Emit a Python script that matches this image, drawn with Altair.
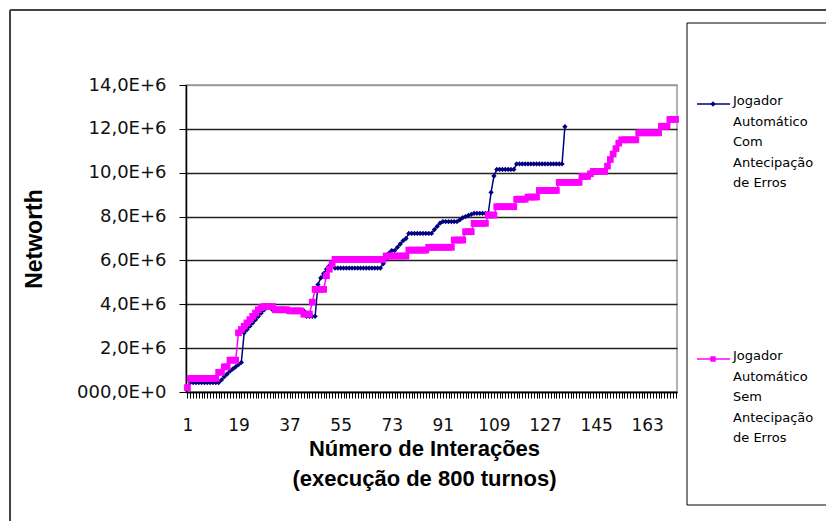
import altair as alt
import pandas as pd

# Series values (millions), one per iteration
com = [
    0.2,
    0.43, 0.43, 0.43, 0.43, 0.43, 0.43, 0.43, 0.43, 0.43, 0.43, 0.43,
    0.55, 0.7, 0.82, 0.95, 1.05, 1.15, 1.25, 1.35,
    2.7, 2.85, 3.0, 3.15, 3.3, 3.45, 3.6, 3.75, 3.85, 3.9,
    3.75, 3.75, 3.75, 3.75, 3.75, 3.75,
    3.7, 3.7, 3.7, 3.7, 3.7, 3.7,
    3.45, 3.45, 3.45, 3.45,
    4.9, 5.2, 5.4, 5.6, 5.75, 5.85,
    5.65, 5.65, 5.65, 5.65, 5.65, 5.65, 5.65, 5.65, 5.65, 5.65, 5.65, 5.65, 5.65, 5.65, 5.65, 5.65, 5.65,
    5.85, 6.1, 6.33, 6.45, 6.45, 6.6, 6.75, 6.9, 7.0,
    7.23, 7.23, 7.23, 7.23, 7.23, 7.23, 7.23, 7.23, 7.23,
    7.4, 7.55, 7.7,
    7.77, 7.77, 7.77, 7.77, 7.77, 7.77,
    7.85, 7.95, 8.0, 8.05, 8.1, 8.15,
    8.15, 8.15, 8.15, 8.15, 8.15,
    9.1,
    9.85,
    10.15, 10.15, 10.15, 10.15, 10.15, 10.15, 10.15,
    10.4, 10.4, 10.4, 10.4, 10.4, 10.4, 10.4, 10.4, 10.4, 10.4, 10.4, 10.4, 10.4, 10.4, 10.4, 10.4, 10.4,
    12.1,
]

sem = [
    0.2,
    0.62, 0.62, 0.62, 0.62, 0.62, 0.62, 0.62, 0.62, 0.62, 0.62,
    0.9, 0.9,
    1.15, 1.15,
    1.45, 1.45, 1.45,
    2.7,
    2.85, 3.0, 3.15, 3.3, 3.45, 3.6, 3.75, 3.85,
    3.9, 3.9, 3.9, 3.9,
    3.75, 3.75, 3.75, 3.75, 3.75,
    3.7, 3.7, 3.7, 3.7, 3.7,
    3.55, 3.55, 3.55,
    4.1,
    4.68, 4.68, 4.68, 4.68,
    5.3, 5.6, 5.85, 6.05,
    6.05, 6.05, 6.05, 6.05, 6.05, 6.05, 6.05, 6.05, 6.05, 6.05, 6.05, 6.05, 6.05, 6.05, 6.05, 6.05, 6.05,
    6.2, 6.2, 6.2, 6.2, 6.2, 6.2, 6.2, 6.2,
    6.47, 6.47, 6.47, 6.47, 6.47, 6.47, 6.47,
    6.6, 6.6, 6.6, 6.6, 6.6, 6.6, 6.6, 6.6, 6.6,
    6.93, 6.93, 6.93, 6.93,
    7.31, 7.31, 7.31,
    7.69, 7.69, 7.69, 7.69, 7.69,
    8.07, 8.07, 8.07,
    8.45, 8.45, 8.45, 8.45, 8.45, 8.45, 8.45,
    8.79, 8.79, 8.79, 8.79,
    8.89, 8.89, 8.89, 8.89,
    9.19, 9.19, 9.19, 9.19, 9.19, 9.19, 9.19,
    9.56, 9.56, 9.56, 9.56, 9.56, 9.56, 9.56, 9.56,
    9.83, 9.83, 9.83,
    9.95,
    10.06, 10.06, 10.06, 10.06, 10.06,
    10.3, 10.6, 10.85, 11.1, 11.35,
    11.5, 11.5, 11.5, 11.5, 11.5, 11.5,
    11.82, 11.82, 11.82, 11.82, 11.82, 11.82, 11.82, 11.82,
    12.12, 12.12, 12.12,
    12.43, 12.43, 12.43,
]

n_categories = 173
x_labels = [1, 19, 37, 55, 73, 91, 109, 127, 145, 163]
y_ticks = [0, 2000000, 4000000, 6000000, 8000000, 10000000, 12000000, 14000000]
y_labels = ["000,0E+0", "2,0E+6", "4,0E+6", "6,0E+6", "8,0E+6", "10,0E+6", "12,0E+6", "14,0E+6"]

name_com = ["Jogador", "Automático", "Com", "Antecipação", "de Erros"]
name_sem = ["Jogador", "Automático", "Sem", "Antecipação", "de Erros"]
x_title = ["Número de Interações", "(execução de 800 turnos)"]
y_title = "Networth"

NAVY = "#000080"
MAGENTA = "#FF00FF"

df_com = pd.DataFrame({"i": list(range(1, len(com) + 1)), "v": [c * 1e6 for c in com]})
df_sem = pd.DataFrame({"i": list(range(1, len(sem) + 1)), "v": [s * 1e6 for s in sem]})
one = pd.DataFrame({"k": [0]})

W, H = 491, 307

y_expr = ""
for t, l in zip(y_ticks, y_labels):
    y_expr += f"datum.value == {t} ? '{l}' : "
y_expr += "''"

x_scale = alt.Scale(domain=[0.5, n_categories + 0.5], nice=False, zero=False)
y_scale = alt.Scale(domain=[0, 14000000], nice=False)

x_axis = alt.Axis(
    values=list(range(1, n_categories + 1)),
    tickCount=400,
    labelExpr=f"indexof({x_labels}, datum.value) >= 0 ? format(datum.value, 'd') : ''",
    labelOverlap=False, labelFlush=False, labelBound=False,
    labelFont="DejaVu Sans", labelFontSize=17, labelColor="#111111",
    labelPadding=19, tickSize=6, tickColor="#000000", tickWidth=1,
    domainColor="#000000", domainWidth=1.5, grid=False,
    title=x_title, titleFont="Liberation Sans", titleFontSize=22, titleFontWeight="bold",
    titleColor="#000000", titleLineHeight=30, titleX=238, titleY=46,
    titleBaseline="top", titleAlign="center", titleAnchor="start",
)

y_axis = alt.Axis(
    values=y_ticks, tickCount=20, labelExpr=y_expr,
    labelFont="DejaVu Sans", labelFontSize=18, labelColor="#111111",
    labelPadding=13, tickSize=7, tickColor="#000000",
    domainColor="#000000", domainWidth=1.5,
    grid=True,
    gridColor=alt.condition("datum.value == 14000000", alt.value("#999999"), alt.value("#222222")),
    gridWidth=1.5,
    title=y_title, titleFont="Liberation Sans", titleFontSize=23, titleFontWeight="bold",
    titleColor="#000000", titleX=-152, titleY=H / 2, titleAngle=-90,
    titleAlign="center", titleBaseline="middle", titleAnchor="start",
)

line_com = alt.Chart(df_com).mark_line(
    color=NAVY, strokeWidth=1.5,
    point=alt.OverlayMarkDef(shape="diamond", filled=True, size=28, color=NAVY),
).encode(
    x=alt.X("i:Q", scale=x_scale, axis=x_axis),
    y=alt.Y("v:Q", scale=y_scale, axis=y_axis),
)

line_sem = alt.Chart(df_sem).mark_line(
    color=MAGENTA, strokeWidth=1.5,
    point=alt.OverlayMarkDef(shape="square", filled=True, size=45, color=MAGENTA),
).encode(
    x=alt.X("i:Q", scale=x_scale),
    y=alt.Y("v:Q", scale=y_scale),
)

# outer chart frame
frame_top = alt.Chart(one).mark_rule(color="#444444", strokeWidth=2).encode(
    x=alt.value(-176), x2=alt.value(640), y=alt.value(-75))
frame_left = alt.Chart(one).mark_rule(color="#444444", strokeWidth=2).encode(
    x=alt.value(-176), y=alt.value(-75), y2=alt.value(460))

# legend box (its right edge lies outside the picture) and entries
leg_top = alt.Chart(one).mark_rule(color="#000000", strokeWidth=1).encode(
    x=alt.value(501), x2=alt.value(640), y=alt.value(-62))
leg_bottom = alt.Chart(one).mark_rule(color="#000000", strokeWidth=1).encode(
    x=alt.value(501), x2=alt.value(640), y=alt.value(420))
leg_left = alt.Chart(one).mark_rule(color="#000000", strokeWidth=1).encode(
    x=alt.value(501), y=alt.value(-62), y2=alt.value(420))

def legend_entry(yc, color, shape, size, lines):
    rule = alt.Chart(one).mark_rule(color=color, strokeWidth=1.5).encode(
        x=alt.value(511), x2=alt.value(544), y=alt.value(yc))
    pt = alt.Chart(one).mark_point(shape=shape, filled=True, size=size, color=color, opacity=1).encode(
        x=alt.value(527), y=alt.value(yc))
    txt = alt.Chart(one).mark_text(
        text=lines, align="left", baseline="top", font="DejaVu Sans", fontSize=13,
        lineHeight=20.5, color="#000000",
    ).encode(x=alt.value(547), y=alt.value(yc - 9))
    return [rule, pt, txt]

layers = [frame_top, frame_left, leg_top, leg_bottom, leg_left]
layers += legend_entry(19, NAVY, "diamond", 28, name_com)
layers += legend_entry(274, MAGENTA, "square", 30, name_sem)
layers += [line_com, line_sem]

chart = alt.layer(*layers).properties(
    width=W, height=H,
    autosize=alt.AutoSizeParams(type="none"),
    padding={"left": 178, "top": 77, "right": 149, "bottom": 129},
    background="white",
).configure_view(stroke="#999999", strokeWidth=1.5)

chart.save("out.html", embed_options={"renderer": "svg", "actions": False})
